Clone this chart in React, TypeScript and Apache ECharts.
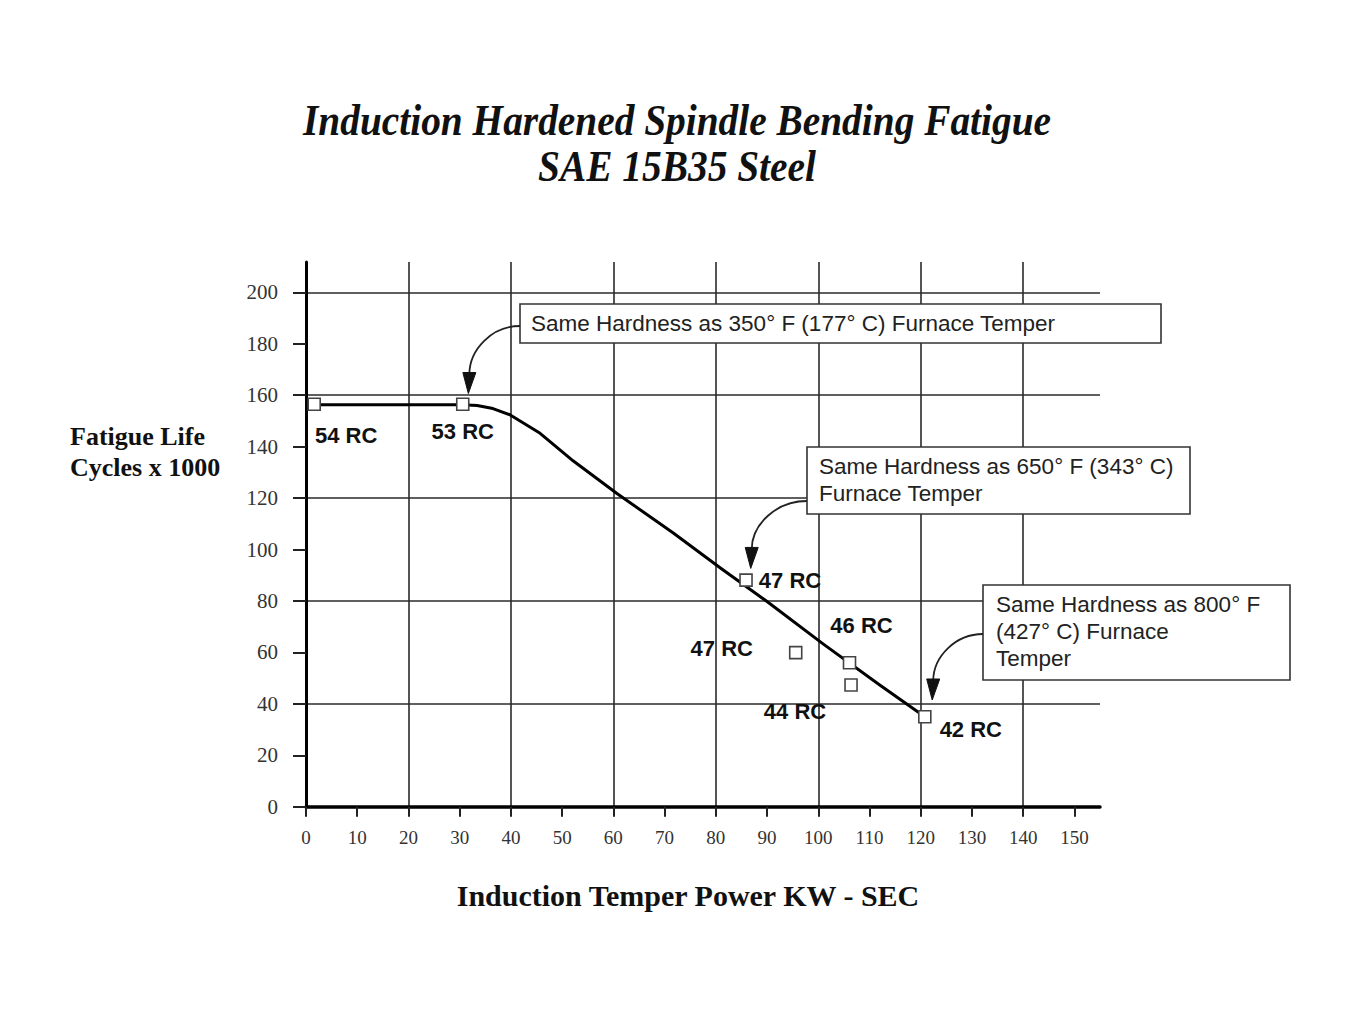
import React, { useEffect, useRef } from "react";
import * as echarts from "echarts";

// ---------- data ----------
const xTicks = [0, 10, 20, 30, 40, 50, 60, 70, 80, 90, 100, 110, 120, 130, 140, 150];
const yTicks = [0, 20, 40, 60, 80, 100, 120, 140, 160, 180, 200];
const xMin = 0;
const xMax = 155;
const yMin = 0;
const yMax = 211.8;

const curveX = [1.6, 30.6, 33.4, 36.5, 39.8, 45.7, 52.2, 60.7, 71.7, 80.9, 90, 101, 112, 120.8];
const curveY = [156.3, 156.3, 156, 154.8, 152.4, 145.2, 134.4, 121.8, 106.4, 92.8, 79.8, 63.2, 47.3, 35];

const hardness = ["54 RC", "53 RC", "47 RC", "47 RC", "46 RC", "44 RC", "42 RC"];
const pointX = [1.6, 30.6, 85.9, 95.6, 106.1, 106.4, 120.8];
const pointY = [156.5, 156.5, 88.1, 59.9, 56, 47.3, 35];

const noteTexts = [
  "Same Hardness as 350° F (177° C) Furnace Temper",
  "Same Hardness as 650° F (343° C)\nFurnace Temper",
  "Same Hardness as 800° F\n(427° C) Furnace\nTemper",
];
const noteTargets = [1, 2, 6];

const titleLines = ["Induction Hardened Spindle Bending Fatigue", "SAE 15B35 Steel"];
const yName = "Fatigue Life\nCycles x 1000";
const xName = "Induction Temper Power KW - SEC";

// ---------- layout (pixels) ----------
const labelOffsets = [[32, 31], [0, 27], [44, 0], [-74, -4], [12, -37], [-56, 26], [46, 13]];
const noteBoxes = [[520, 304, 641, 39], [807, 447, 383, 67], [983, 585, 307, 95]];
const noteTextPos = [[531, 309.5], [819, 453.2], [996, 590.8]];
const arrowStartY = [326, 501, 634];
const tipOffsets = [[5.6, -10.7], [4.7, -11.7], [7.4, -16.7]];

const SERIF = '"Liberation Serif", "Times New Roman", serif';
const SANS = '"Liberation Sans", Arial, sans-serif';

export default function App() {
  const ref = useRef<HTMLDivElement>(null);
  useEffect(() => {
    if (!ref.current) return;
    const chart = echarts.init(ref.current, null, { renderer: "svg" });
    const grid = { left: 306, top: 262, width: 794, height: 544.7 };
    const option: any = {
      animation: false,
      backgroundColor: "#fff",
      grid,
      xAxis: [
        {
          type: "value", min: xMin, max: xMax, interval: 20,
          axisLine: { show: false }, axisTick: { show: false }, axisLabel: { show: false },
          splitLine: { show: true, showMinLine: false, showMaxLine: false, lineStyle: { color: "#2a2a2a", width: 1.6 } },
        },
        {
          type: "value", min: xMin, max: xMax, position: "bottom",
          axisLine: { show: true, onZero: false, lineStyle: { color: "#000", width: 3.5 } },
          axisTick: { show: true, length: 10, customValues: xTicks, lineStyle: { color: "#222", width: 2 } },
          axisLabel: { show: true, customValues: xTicks, margin: 21, fontFamily: SERIF, fontSize: 19, color: "#333" },
          splitLine: { show: false },
        },
      ],
      yAxis: [
        {
          type: "value", min: yMin, max: yMax, interval: 40,
          axisLine: { show: false }, axisTick: { show: false }, axisLabel: { show: false },
          splitLine: { show: true, showMinLine: false, showMaxLine: false, lineStyle: { color: "#2a2a2a", width: 1.6 } },
        },
        {
          type: "value", min: yMin, max: yMax, position: "left",
          axisLine: { show: true, onZero: false, lineStyle: { color: "#000", width: 3 } },
          axisTick: { show: true, length: 13, customValues: yTicks, lineStyle: { color: "#222", width: 2 } },
          axisLabel: { show: true, customValues: yTicks, margin: 28, fontFamily: SERIF, fontSize: 21, color: "#333" },
          splitLine: { show: false },
        },
      ],
      series: [
        {
          type: "line", xAxisIndex: 0, yAxisIndex: 0, z: 2,
          data: curveX.map((x, i) => [x, curveY[i]]),
          showSymbol: false, smooth: false,
          lineStyle: { color: "#000", width: 3, join: "round" },
        },
        {
          type: "scatter", xAxisIndex: 0, yAxisIndex: 0, z: 3,
          symbol: "rect", symbolSize: 12,
          itemStyle: { color: "#fff", borderColor: "#444", borderWidth: 1.6, opacity: 1 },
          label: {
            show: true, position: "inside", formatter: "{b}",
            fontFamily: SANS, fontWeight: "bold", fontSize: 22, color: "#111",
            align: "center", verticalAlign: "middle",
          },
          data: pointX.map((x, i) => ({
            name: hardness[i],
            value: [x, pointY[i]],
            label: { offset: labelOffsets[i] },
          })),
        },
      ],
    };
    chart.setOption(option);

    const graphics: any[] = [];
    // title
    titleLines.forEach((t, i) => {
      graphics.push({
        type: "text", x: 677, y: i === 0 ? 120 : 166, scaleX: 0.875, z: 100,
        style: {
          text: t, fontFamily: SERIF, fontStyle: "italic", fontWeight: "bold", fontSize: 45,
          fill: "#111", align: "center", verticalAlign: "middle",
        },
      });
    });
    // axis names
    graphics.push({
      type: "text", x: 70, y: 421, z: 100,
      style: { text: yName, fontFamily: SERIF, fontWeight: "bold", fontSize: 26, lineHeight: 31, fill: "#111", align: "left", verticalAlign: "top" },
    });
    graphics.push({
      type: "text", x: 688, y: 895, z: 100,
      style: { text: xName, fontFamily: SERIF, fontWeight: "bold", fontSize: 30, fill: "#111", align: "center", verticalAlign: "middle" },
    });
    // annotation boxes and arrows
    noteTexts.forEach((t, i) => {
      const [bx, by, bw, bh] = noteBoxes[i];
      graphics.push({
        type: "rect", z: 100,
        shape: { x: bx, y: by, width: bw, height: bh },
        style: { fill: "#fff", stroke: "#333", lineWidth: 1.6 },
      });
      graphics.push({
        type: "text", x: noteTextPos[i][0], y: noteTextPos[i][1], z: 101,
        style: { text: t, fontFamily: SANS, fontSize: 22.5, lineHeight: 27, fill: "#222", align: "left", verticalAlign: "top" },
      });
      const k = noteTargets[i];
      const p = chart.convertToPixel({ xAxisIndex: 0, yAxisIndex: 0 }, [pointX[k], pointY[k]]) as number[];
      const tipX = p[0] + tipOffsets[i][0];
      const tipY = p[1] + tipOffsets[i][1];
      const baseY = tipY - 21;
      const baseX = tipX + 1;
      const sx = bx;
      const sy = arrowStartY[i];
      graphics.push({
        type: "bezierCurve", z: 100,
        shape: {
          x1: sx, y1: sy, x2: baseX, y2: baseY + 2,
          cpx1: sx - (sx - baseX) * 0.55, cpy1: sy,
          cpx2: baseX, cpy2: baseY - (baseY - sy) * 0.5,
        },
        style: { stroke: "#222", lineWidth: 1.8, fill: null },
      });
      graphics.push({
        type: "polygon", z: 100,
        shape: { points: [[baseX - 6.5, baseY], [baseX + 6.5, baseY], [tipX, tipY]] },
        style: { fill: "#111", stroke: "#111", lineWidth: 1 },
      });
    });
    chart.setOption({ graphic: graphics });

    return () => chart.dispose();
  }, []);
  return (
    <div
      ref={ref}
      style={{ position: "absolute", left: 0, top: 0, width: 1352, height: 1025, background: "#fff" }}
    />
  );
}
